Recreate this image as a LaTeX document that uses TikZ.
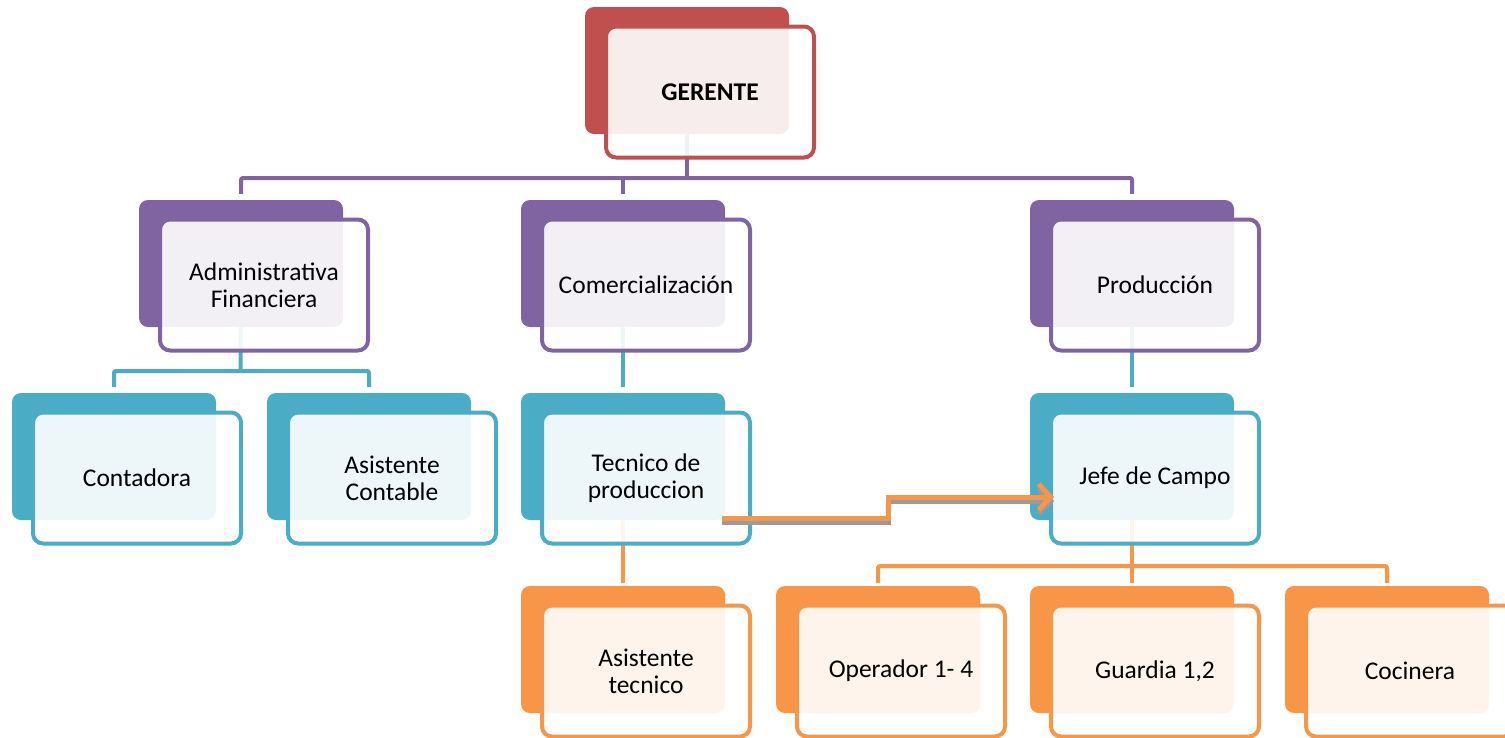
\documentclass[tikz,border=0pt]{standalone}
\usepackage{fontspec}
\setmainfont{Carlito}
\usetikzlibrary{arrows.meta,calc}
\definecolor{cred}{HTML}{C0504D}
\definecolor{cpur}{HTML}{8064A2}
\definecolor{cteal}{HTML}{4BACC6}
\definecolor{corg}{HTML}{F79646}
\definecolor{cshadow}{HTML}{9A9A9A}
\pgfdeclarelayer{bg}
\pgfsetlayers{bg,main}
\tikzset{
  backbox/.style={minimum width=204pt, minimum height=127pt, inner sep=0pt,
    rounded corners=9pt, fill=#1, draw=none},
  frontbox/.style={minimum width=208pt, minimum height=131pt, inner sep=0pt,
    rounded corners=10pt, draw=#1, line width=4pt, fill=white, fill opacity=0.9,
    text opacity=1, align=center, text=black,
    font=\fontsize{25.5}{27}\selectfont},
  conn/.style={draw=#1, line width=4pt, rounded corners=2pt},
  arrline/.style={draw=corg, line width=5pt, -{Straight Barb[length=12pt,width=26pt]}},
  arrshadow/.style={draw=cshadow, line width=5pt, -{Straight Barb[length=12pt,width=26pt]}},
}
\newcommand\orgbox[5]{%
  \node[backbox=#2] (#1B) at (#3+102, #4+63.5) {};
  \node[frontbox=#2] (#1F) at (#3+125, #4+85) {#5};
}
\begin{document}
\begin{tikzpicture}[x=1pt,y=-1pt]
\useasboundingbox (0,0) rectangle (1505,737);
% boxes
\orgbox{ger}{cred}{585}{7}{\bfseries GERENTE}
\orgbox{adm}{cpur}{139}{200}{Administrativa\\Financiera}
\orgbox{com}{cpur}{521}{200}{Comercializaci\'on}
\orgbox{prod}{cpur}{1030}{200}{Producci\'on}
\orgbox{cont}{cteal}{12}{393}{Contadora}
\orgbox{asis}{cteal}{267}{393}{Asistente\\Contable}
\orgbox{tec}{cteal}{521}{393}{Tecnico de\\produccion}
\orgbox{jefe}{cteal}{1030}{393}{Jefe de Campo}
\orgbox{asist}{corg}{521}{586}{Asistente\\tecnico}
\orgbox{oper}{corg}{776}{586}{Operador 1- 4}
\orgbox{guard}{corg}{1030}{586}{Guardia 1,2}
\orgbox{coc}{corg}{1285}{586}{Cocinera}
% connector junctions
\coordinate (b1) at (687,178);
\coordinate (b2) at (240.5,371);
\coordinate (b3) at (1132,566);
\begin{pgfonlayer}{bg}
\draw[conn=cpur] (gerB.center) -- (b1);
\draw[conn=cpur] ([yshift=6pt]admB.north) |- (b1) -| ([yshift=6pt]prodB.north);
\draw[conn=cpur] ([yshift=6pt]comB.north) -- (comB.north |- b1);
\draw[conn=cteal] (admB.center) -- (b2);
\draw[conn=cteal] ([yshift=6pt]contB.north) |- (b2) -| ([yshift=6pt]asisB.north);
\draw[conn=cteal] (comB.center) -- ([yshift=6pt]tecB.north);
\draw[conn=cteal] (prodB.center) -- ([yshift=6pt]jefeB.north);
\draw[conn=corg] (tecB.center) -- ([yshift=3pt]asistB.north);
\draw[conn=corg] (jefeB.center) -- (b3);
\draw[conn=corg] ([yshift=3pt]operB.north) |- (b3) -| ([yshift=3pt]cocB.north);
\draw[conn=corg] (b3) -- ([yshift=3pt]guardB.north);
\end{pgfonlayer}
% arrow from Tecnico de produccion to Jefe de Campo
\coordinate (a1) at ($(tecF.center)+(76,40)$);
\coordinate (a2) at (888,518);
\coordinate (a3) at (888,497);
\coordinate (a4) at ($(jefeF.west)+(5,19)$);
\begin{scope}[transform canvas={yshift=-4pt}]
\draw[arrshadow] (a1) -- (a2) -- (a3) -- (a4);
\end{scope}
\draw[arrline] (a1) -- (a2) -- (a3) -- (a4);
\end{tikzpicture}
\end{document}
